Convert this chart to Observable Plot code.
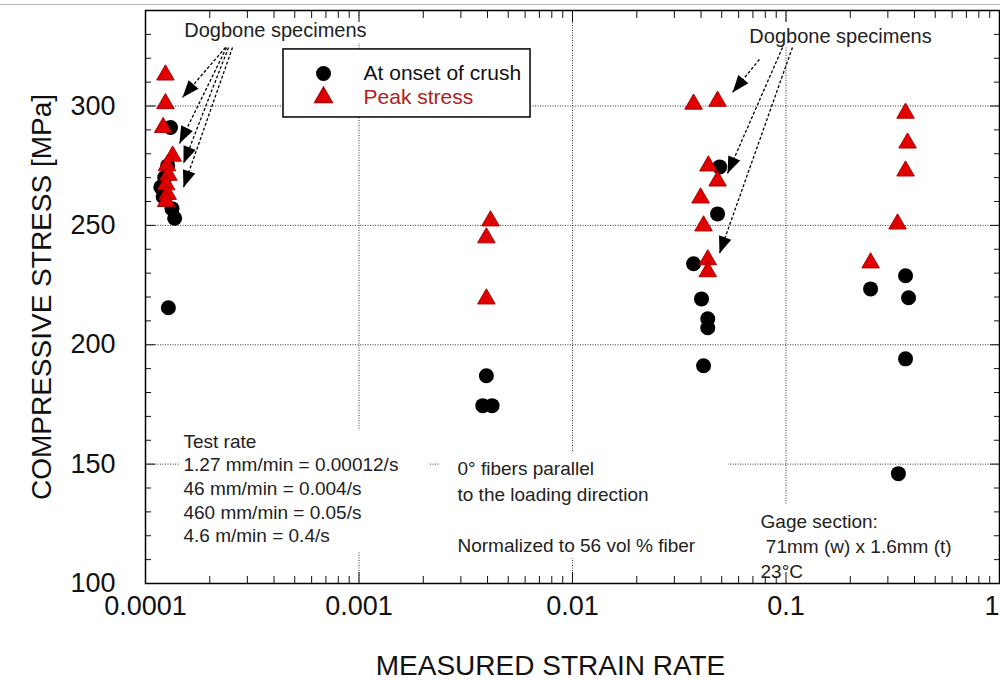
<!DOCTYPE html>
<html><head><meta charset="utf-8">
<script src="https://cdn.jsdelivr.net/npm/d3@7"></script>
<script src="https://cdn.jsdelivr.net/npm/@observablehq/plot@0.6"></script>
<style>
html,body{margin:0;padding:0;background:#fff;}
#chart{position:absolute;left:0;top:0;}
#topline{position:absolute;left:0;top:4px;width:1000px;height:1px;background:#b8b8b8;z-index:2;}
</style></head><body>
<div id="chart"></div><div id="topline"></div>
<script>
// ---- data: "At onset of crush" (circles) ----
const crushRate = [0.000131, 0.000127, 0.000123, 0.000118, 0.000121, 0.000133, 0.000137, 0.000128,
  0.0038, 0.0042, 0.00395,
  0.0489, 0.0478, 0.0369, 0.0402, 0.0430, 0.0430, 0.0411,
  0.363, 0.249, 0.375, 0.363, 0.336];
const crushStress = [291, 275, 270, 266, 262, 257, 253, 215.5,
  174.5, 174.5, 187,
  274.5, 254.8, 233.9, 219.2, 210.9, 207.1, 191.2,
  228.9, 223.4, 219.7, 194.1, 146];
// ---- data: "Peak stress" (triangles) ----
const peakRate = [0.000124, 0.000124, 0.000121, 0.000134, 0.000126, 0.000128, 0.000125, 0.000127, 0.000125,
  0.00413, 0.00395, 0.00395,
  0.0369, 0.0478, 0.0433, 0.0478, 0.0398, 0.0411, 0.0430, 0.0430,
  0.363, 0.371, 0.363, 0.333, 0.249];
const peakStress = [313, 301, 291, 279, 275, 271, 267, 263, 260,
  251.9, 244.8, 219.2,
  300.8, 302, 274.9, 268.6, 261.5, 249.8, 235.6, 230.6,
  297, 284.5, 272.8, 250.6, 234.3];

// ---- axes ----
const xTicks = [0.0001, 0.001, 0.01, 0.1, 1];
const xTickLabels = ["0.0001", "0.001", "0.01", "0.1", "1"];
const yTicks = [100, 150, 200, 250, 300];
const yTickLabels = ["100", "150", "200", "250", "300"];
const gridX = [0.001, 0.01, 0.1];
const gridY = [150, 200, 250, 300];
const xMinor = [];
for (const d of [0.0001, 0.001, 0.01, 0.1]) for (let k = 2; k <= 9; k++) xMinor.push(+(d * k).toPrecision(3));
const yMinor = d3.range(110, 341, 10).filter(v => v % 50 !== 0);

// ---- annotations ----
const seriesNames = ["At onset of crush", "Peak stress"];
const noteText = ["Test rate", "1.27 mm/min = 0.00012/s", "46 mm/min = 0.004/s", "460 mm/min = 0.05/s", "4.6 m/min = 0.4/s",
  "0° fibers parallel", "to the loading direction", "Normalized to 56 vol % fiber",
  "Gage section:", "\u00a071mm (w) x 1.6mm (t)", "23°C"];
const noteX = [1.506e-4, 1.506e-4, 1.506e-4, 1.506e-4, 1.506e-4,
  2.893e-3, 2.893e-3, 2.893e-3,
  0.076, 0.076, 0.076];
const noteY = [159.5, 149.8, 139.8, 129.7, 120.1,
  148.2, 136.9, 115.9,
  126, 115.5, 105];
const dogText = ["Dogbone specimens", "Dogbone specimens"];
const dogX = [4.06e-4, 0.18];
const dogY = [331.6, 329.1];
// arrows (from text to specimens)
const arrowX1 = [2.37e-4, 2.395e-4, 2.448e-4, 2.556e-4, 0.0751, 0.0963, 0.1072];
const arrowY1 = [324.5, 324.5, 324.5, 324.5, 319.5, 324.5, 324.5];
const arrowX2 = [1.49e-4, 1.443e-4, 1.506e-4, 1.506e-4, 0.0562, 0.0532, 0.0488];
const arrowY2 = [303.6, 284.3, 275.9, 265.9, 305.7, 271.7, 238.2];
// white backgrounds behind text blocks
const boxX1 = [1.46e-4, 2.41e-3, 0.0697, 1.427e-4, 0.0632];
const boxX2 = [2.16e-3, 0.0538, 0.772, 1.157e-3, 0.5124];
const boxY1 = [113, 110.5, 100.6, 326.2, 324.5];
const boxY2 = [164, 154.9, 132.7, 336.6, 335];
// legend
const legendBox = {x1: 4.43e-4, x2: 6.36e-3, y1: 295.2, y2: 323.7};
const legendSymX = 6.82e-4, legendTextX = 1.05e-3;
const legendY = [313.6, 303.6];

const FONT = "'Liberation Sans', Arial, Helvetica, sans-serif";
const crush = crushRate.map((x, i) => ({x, y: crushStress[i]}));
const peak = peakRate.map((x, i) => ({x, y: peakStress[i]}));
const notes = noteText.map((t, i) => ({t, x: noteX[i], y: noteY[i]}));
const dogs = dogText.map((t, i) => ({t, x: dogX[i], y: dogY[i]}));
const arrows = arrowX1.map((x1, i) => ({x1, y1: arrowY1[i], x2: arrowX2[i], y2: arrowY2[i]}));
const boxes = boxX1.map((x1, i) => ({x1, x2: boxX2[i], y1: boxY1[i], y2: boxY2[i]}));
const legendItems = seriesNames.map((name, i) => ({name, y: legendY[i], i}));
const xLabelOf = new Map(xTicks.map((v, i) => [v, xTickLabels[i]]));
const yLabelOf = new Map(yTicks.map((v, i) => [v, yTickLabels[i]]));

function filledArrow(color, context) {
  const ns = "http://www.w3.org/2000/svg";
  const doc = (context && context.document) || document;
  const m = doc.createElementNS(ns, "marker");
  m.setAttribute("viewBox", "-18 -8 18 16");
  m.setAttribute("markerWidth", 18);
  m.setAttribute("markerHeight", 16);
  m.setAttribute("markerUnits", "userSpaceOnUse");
  m.setAttribute("orient", "auto");
  m.setAttribute("refX", 0);
  m.setAttribute("refY", 0);
  const p = doc.createElementNS(ns, "path");
  p.setAttribute("d", "M-17,-6.5L0,0L-17,6.5Z");
  p.setAttribute("fill", "black");
  p.setAttribute("stroke", "none");
  m.appendChild(p);
  return m;
}

const chart = Plot.plot({
  width: 1000, height: 681,
  marginLeft: 145, marginRight: 1, marginTop: 10, marginBottom: 98,
  style: {fontFamily: FONT, background: "white", color: "#111", overflow: "visible"},
  x: {type: "log", domain: [0.0001, 1]},
  y: {domain: [100, 340]},
  marks: [
    Plot.ruleX(gridX, {stroke: "#333", strokeWidth: 1, strokeDasharray: "1,1.5"}),
    Plot.ruleY(gridY, {stroke: "#333", strokeWidth: 1, strokeDasharray: "1,1.5"}),
    Plot.rect(boxes, {x1: "x1", x2: "x2", y1: "y1", y2: "y2", fill: "white"}),
    Plot.link(arrows, {x1: "x1", y1: "y1", x2: "x2", y2: "y2", stroke: "black", strokeWidth: 1.3,
      strokeDasharray: "3,2", markerEnd: filledArrow}),
    Plot.text(notes, {x: "x", y: "y", text: "t", textAnchor: "start", fontSize: 19, fill: "#222"}),
    Plot.text(dogs, {x: "x", y: "y", text: "t", textAnchor: "middle", fontSize: 20, fill: "#222"}),
    Plot.rect([legendBox], {x1: "x1", x2: "x2", y1: "y1", y2: "y2", fill: "white", stroke: "black", strokeWidth: 1.5}),
    Plot.dot(legendItems.filter(d => d.i === 0), {x: () => legendSymX, y: "y", r: 7.5, fill: "black"}),
    Plot.dot(legendItems.filter(d => d.i === 1), {x: () => legendSymX, y: "y", r: 6.5, symbol: "triangle", fill: "#e00000", stroke: "#b00000"}),
    Plot.text(legendItems, {x: () => legendTextX, y: "y", text: "name", textAnchor: "start", fontSize: 21,
      fill: d => d.i === 0 ? "#111" : "#b02020"}),
    Plot.dot(crush, {x: "x", y: "y", r: 7.5, fill: "black"}),
    Plot.dot(peak, {x: "x", y: "y", r: 6.5, symbol: "triangle", fill: "#e00000", stroke: "#b00000", strokeWidth: 1}),
    // tick labels
    Plot.text(xTicks.slice(0, -1), {x: d => d, frameAnchor: "bottom", lineAnchor: "middle", textAnchor: "middle", dy: 23,
      text: d => xLabelOf.get(d), fontSize: 27, fill: "#111"}),
    Plot.text(xTicks.slice(-1), {x: d => d, frameAnchor: "bottom", lineAnchor: "middle", textAnchor: "end", dy: 23, dx: 0,
      text: d => xLabelOf.get(d), fontSize: 27, fill: "#111"}),
    Plot.text(yTicks, {y: d => d, frameAnchor: "left", textAnchor: "end", lineAnchor: "middle", dx: -30,
      text: d => yLabelOf.get(d), fontSize: 27, fill: "#111"}),
    // inward tick marks
    Plot.axisX({anchor: "bottom", ticks: xTicks, tickSize: -11, tickFormat: () => "", label: null}),
    Plot.axisX({anchor: "bottom", ticks: xMinor, tickSize: -7, tickFormat: () => "", label: null}),
    Plot.axisX({anchor: "top", ticks: xTicks, tickSize: -11, tickFormat: () => "", label: null}),
    Plot.axisX({anchor: "top", ticks: xMinor, tickSize: -7, tickFormat: () => "", label: null}),
    Plot.axisY({anchor: "left", ticks: yTicks, tickSize: -10, tickFormat: () => "", label: null}),
    Plot.axisY({anchor: "left", ticks: yMinor, tickSize: -6, tickFormat: () => "", label: null}),
    Plot.axisY({anchor: "right", ticks: yTicks, tickSize: -10, tickFormat: () => "", label: null}),
    Plot.axisY({anchor: "right", ticks: yMinor, tickSize: -6, tickFormat: () => "", label: null}),
    Plot.frame({stroke: "black", strokeWidth: 1.5}),
    // axis titles
    Plot.text(["COMPRESSIVE STRESS [MPa]"], {frameAnchor: "left", textAnchor: "middle", lineAnchor: "middle",
      dx: -103, rotate: -90, fontSize: 28, fill: "#111"}),
    Plot.text(["MEASURED STRAIN RATE"], {frameAnchor: "bottom", textAnchor: "middle", lineAnchor: "middle",
      dy: 83, dx: -22, fontSize: 28, fill: "#111"})
  ]
});
document.getElementById("chart").appendChild(chart);
</script></body></html>
